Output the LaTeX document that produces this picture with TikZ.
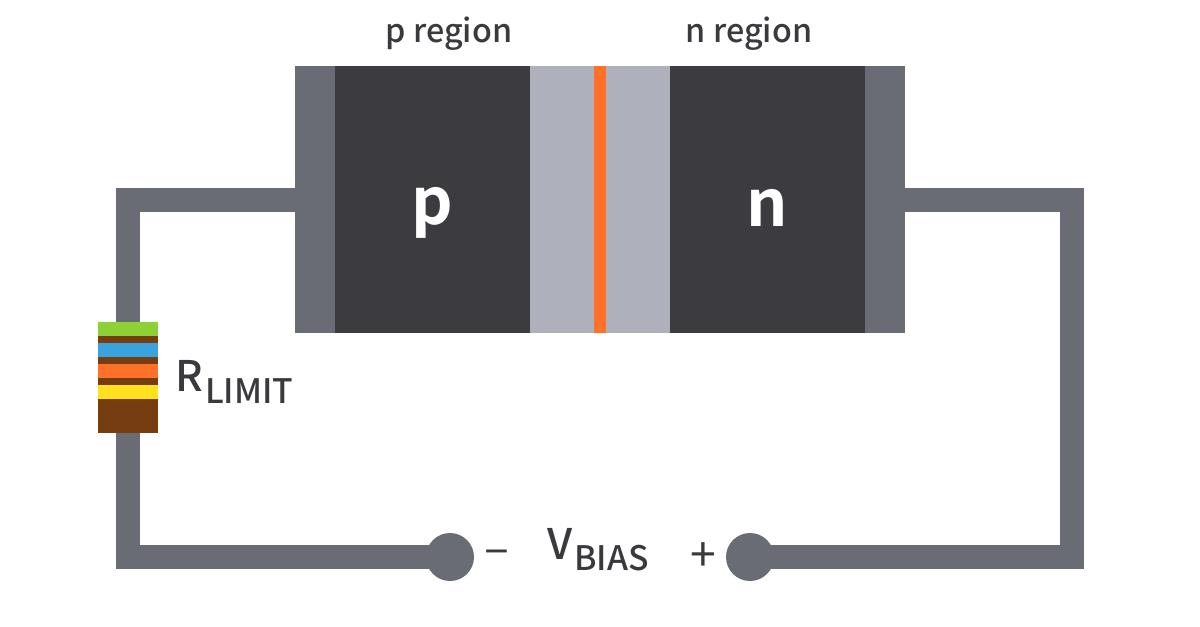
\documentclass[tikz,border=0pt]{standalone}
\usepackage{fontspec}
\setmainfont{Noto Sans CJK SC}[UprightFont=* Medium, BoldFont=* Bold]
\newfontfamily\signfont{Noto Sans CJK SC}
\definecolor{wiregray}{HTML}{6A6C75}
\definecolor{bodydark}{HTML}{3C3B40}
\definecolor{depletion}{HTML}{AEB0BB}
\definecolor{junction}{HTML}{FF7029}
\definecolor{labelgray}{HTML}{3A3A3E}
\definecolor{bandgreen}{HTML}{8CD136}
\definecolor{bandblue}{HTML}{38A3DD}
\definecolor{bandbrown}{HTML}{763E10}
\definecolor{bandyellow}{HTML}{FFE11F}
\newcommand{\sublabel}[2]{{\fontsize{30}{30}\selectfont #1\kern1.5pt\raisebox{-8pt}{\fontsize{24}{24}\selectfont #2}}}
\tikzset{
  layer/.style={rectangle, inner sep=0pt, outer sep=0pt, minimum height=6.675cm},
  wire/.style={draw=wiregray, line width=0.6cm, line join=miter},
  terminal/.style={circle, fill=wiregray, inner sep=0pt, outer sep=0pt, minimum size=1.2cm},
  caption/.style={text=labelgray, inner sep=0pt, font=\fontsize{23}{24}\selectfont},
  letter/.style={text=white, inner sep=0pt, font=\fontsize{46}{46}\selectfont\bfseries},
  sign/.style={text=labelgray, inner sep=0pt, font=\fontsize{33}{33}\signfont},
}
\begin{document}
\begin{tikzpicture}[x=0.025cm, y=-0.025cm]
  \fill[white] (0,0) rectangle (1200,626);
  \useasboundingbox (0,0) rectangle (1200,626);
  % resistor and terminals first, wires go up to them
  \node[terminal] (minus) at (450,557) {};
  \node[terminal] (plus) at (750,557) {};
  \coordinate (leftcorner) at (128,200);
  \coordinate (leftbottom) at (128,557);
  \coordinate (rightcorner) at (1072,200);
  \coordinate (rightbottom) at (1072,557);
  \coordinate (restop) at (128,322);
  \coordinate (resbot) at (128,433);
  \coordinate (leftend) at (295,200);
  \coordinate (rightend) at (905,200);
  \draw[wire] (leftend) -- (leftcorner) -- (restop);
  \draw[wire] (resbot) -- (leftbottom) -- (minus.center);
  \draw[wire] (rightend) -- (rightcorner) -- (rightbottom) -- (plus.center);
  % diode
  \node[layer, fill=wiregray, minimum width=1cm] (pcontact) at (315,199.5) {};
  \node[layer, fill=bodydark, minimum width=4.875cm] (pbody) at (432.5,199.5) {};
  \node[layer, fill=depletion, minimum width=3.5cm] (depl) at (600,199.5) {};
  \node[layer, fill=junction, minimum width=0.3cm] (junc) at (600,199.5) {};
  \node[layer, fill=bodydark, minimum width=4.875cm] (nbody) at (767.5,199.5) {};
  \node[layer, fill=wiregray, minimum width=1cm] (ncontact) at (885,199.5) {};
  % resistor bands
  \foreach \top/\bot/\col in {322/336/bandgreen, 336/343/bandbrown, 343/357/bandblue,
      357/364/bandbrown, 364/378/junction, 378/385/bandbrown, 385/399/bandyellow, 399/433/bandbrown} {
    \fill[\col] (98,\top) rectangle (158,\bot);
  }
  % labels
  \node[caption] (plabel) at (449,34) {p region};
  \node[caption] (nlabel) at (749,34) {n region};
  \node[letter] (pletter) at (432,213) {p};
  \node[letter] (nletter) at (767,208) {n};
  \node[text=labelgray, inner sep=0pt, anchor=west] (rlimit) at (175,382) {\sublabel{R}{LIMIT}};
  \node[text=labelgray, inner sep=0pt, anchor=west] (vbias) at (547,550) {\sublabel{V}{BIAS}};
  \node[sign] (minussign) at (497,557) {–};
  \node[sign] (plussign) at (703,557) {+};
\end{tikzpicture}
\end{document}
